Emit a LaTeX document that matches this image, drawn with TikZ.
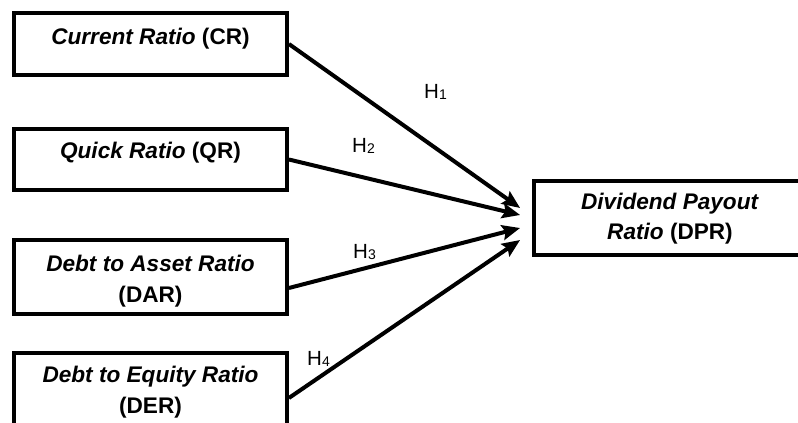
\documentclass[tikz,border=0pt]{standalone}
\usepackage{fontspec}
\setmainfont{Liberation Sans}
\usetikzlibrary{arrows.meta}
\tikzset{
  box/.style={draw=black, line width=3.8pt, rectangle, inner sep=0pt},
  lbl/.style={anchor=base, inner sep=0pt, font=\fontsize{22.6}{26}\selectfont},
  hyp/.style={anchor=base west, inner sep=0pt, font=\fontsize{20.5}{24}\selectfont},
  link/.style={line width=4pt, -{Stealth[length=18pt,width=15pt,inset=3pt]}},
}
\newcommand{\hsub}[1]{H{\fontsize{14}{14}\selectfont\raisebox{-1.5pt}{#1}}}
\begin{document}
\begin{tikzpicture}[x=1pt,y=-1pt]
\useasboundingbox (0,0) rectangle (798,423);
\clip (0,0) rectangle (798,423);
% boxes
\node[box, minimum width=273pt, minimum height=62pt] (cr) at (150.5,44) {};
\node[box, minimum width=273pt, minimum height=61pt] (qr) at (150.5,159.5) {};
\node[box, minimum width=273pt, minimum height=74pt] (dar) at (150.5,277) {};
\node[box, minimum width=273pt, minimum height=74pt] (der) at (150.5,390) {};
\node[box, minimum width=272pt, minimum height=74pt] (dpr) at (670,218) {};
% texts
\node[lbl] (crt) at (150.5,44) {\textbf{\textit{Current Ratio}} \textbf{(CR)}};
\node[lbl] (qrt) at (150.5,158) {\textbf{\textit{Quick Ratio}} \textbf{(QR)}};
\node[lbl] (dart1) at (150.5,271) {\textbf{\textit{Debt to Asset Ratio}}};
\node[lbl] (dart2) at (150.5,302) {\textbf{(DAR)}};
\node[lbl] (dert1) at (150.5,382) {\textbf{\textit{Debt to Equity Ratio}}};
\node[lbl] (dert2) at (150.5,413) {\textbf{(DER)}};
\node[lbl] (dprt1) at (670,209) {\textbf{\textit{Dividend Payout}}};
\node[lbl] (dprt2) at (670,239) {\textbf{\textit{Ratio}} \textbf{(DPR)}};
% arrow ends
\coordinate (e1) at ([xshift=-12pt,yshift=10pt]dpr.west);
\coordinate (e2) at ([xshift=-12pt,yshift=3pt]dpr.west);
\coordinate (e3) at ([xshift=-12pt,yshift=-10pt]dpr.west);
\coordinate (e4) at ([xshift=-12pt,yshift=-22pt]dpr.west);
\draw[link] (cr.east) -- (e1);
\draw[link] (qr.east) -- (e2);
\draw[link] ([yshift=-11pt]dar.east) -- (e3);
\draw[link] ([yshift=-8pt]der.east) -- (e4);
% hypotheses
\node[hyp] (h1) at (424,98) {\hsub{1}};
\node[hyp] (h2) at (352,152) {\hsub{2}};
\node[hyp] (h3) at (353,258) {\hsub{3}};
\node[hyp] (h4) at (307,365) {\hsub{4}};
\end{tikzpicture}
\end{document}
